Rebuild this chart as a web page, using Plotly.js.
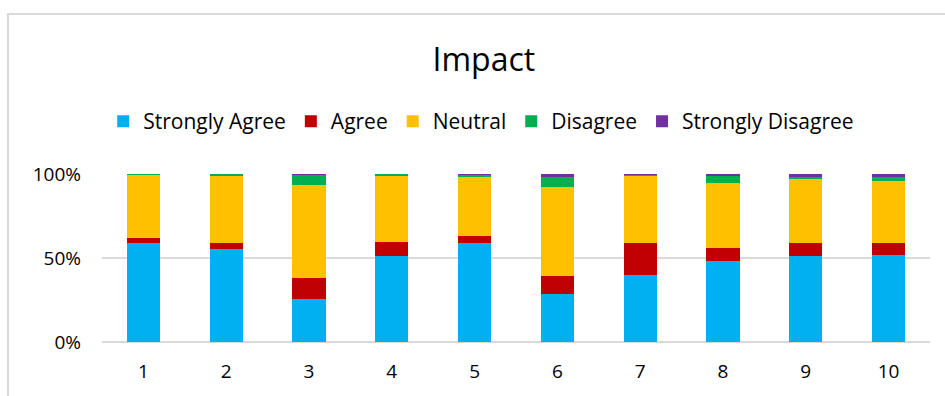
<!DOCTYPE html>
<html>
<head>
<meta charset="utf-8">
<script src="https://cdn.plot.ly/plotly-3.0.1.min.js"></script>
<style>
html,body{margin:0;padding:0;overflow:hidden;background:#fff;}
#chart{width:945px;height:396px;}
#frame{position:absolute;left:7px;top:13px;width:1200px;height:800px;border-left:2px solid #d9d9d9;border-top:2px solid #d9d9d9;pointer-events:none;}
</style>
</head>
<body>
<div id="chart"></div>
<div id="frame"></div>
<script>
const categories = ['1','2','3','4','5','6','7','8','9','10'];
const stronglyAgree    = [58.7, 55.6, 25.4, 51.0, 58.9, 28.6, 40.1, 48.2, 51.2, 51.8];
const agree            = [3.0, 3.3, 12.7, 8.7, 4.2, 10.7, 18.6, 8.0, 7.7, 7.1];
const neutral          = [38.0, 40.1, 55.6, 39.3, 34.9, 53.2, 40.3, 38.2, 38.1, 36.9];
const disagree         = [0.3, 1.0, 5.5, 1.0, 1.6, 5.5, 0.6, 4.6, 1.2, 2.4];
const stronglyDisagree = [0.0, 0.0, 0.8, 0.0, 0.4, 2.0, 0.4, 1.0, 1.8, 1.8];
const seriesNames = ['Strongly Agree','Agree','Neutral','Disagree','Strongly Disagree'];
const seriesColors = ['#00B0F0','#C00000','#FFC000','#00B050','#7030A0'];
const seriesValues = [stronglyAgree, agree, neutral, disagree, stronglyDisagree];
const yTickVals = [0, 50, 100];
const yTickText = ['0%', '50%', '100%'];

const font = '"Open Sans", "Noto Sans", sans-serif';
const traces = seriesValues.map((v, i) => ({
  type: 'bar',
  x: categories,
  y: v,
  name: seriesNames[i],
  marker: {color: seriesColors[i], line: {width: 0}},
  hoverinfo: 'x+y+name'
}));

const layout = {
  width: 945, height: 396,
  margin: {l: 102, r: 15, t: 174, b: 54},
  paper_bgcolor: 'rgba(0,0,0,0)',
  plot_bgcolor: 'rgba(0,0,0,0)',
  barmode: 'stack',
  barnorm: 'percent',
  bargap: 0.6,
  title: {
    text: 'Impact',
    font: {family: font, size: 32, color: '#000'},
    x: 0.512, xanchor: 'center', y: 0.848, yanchor: 'middle'
  },
  showlegend: true,
  legend: {
    orientation: 'h', traceorder: 'normal',
    x: 0.458, xanchor: 'center', y: 1.312, yanchor: 'middle',
    font: {family: font, size: 21, color: '#000'},
    bgcolor: 'rgba(0,0,0,0)'
  },
  xaxis: {
    type: 'category',
    showgrid: false, zeroline: false, showline: false,
    ticks: '',
    ticklabelstandoff: 16,
    tickfont: {family: font, size: 19, color: '#000'}
  },
  yaxis: {
    range: [0, 100],
    tickvals: yTickVals, ticktext: yTickText,
    showgrid: true, gridcolor: '#d9d9d9', gridwidth: 2,
    zeroline: true, zerolinecolor: '#d9d9d9', zerolinewidth: 2,
    showline: false, ticks: '',
    ticklabelstandoff: 20,
    tickfont: {family: font, size: 19, color: '#000'}
  },
  font: {family: font}
};

Plotly.newPlot('chart', traces, layout, {displayModeBar: false, staticPlot: true});
</script>
</body>
</html>
